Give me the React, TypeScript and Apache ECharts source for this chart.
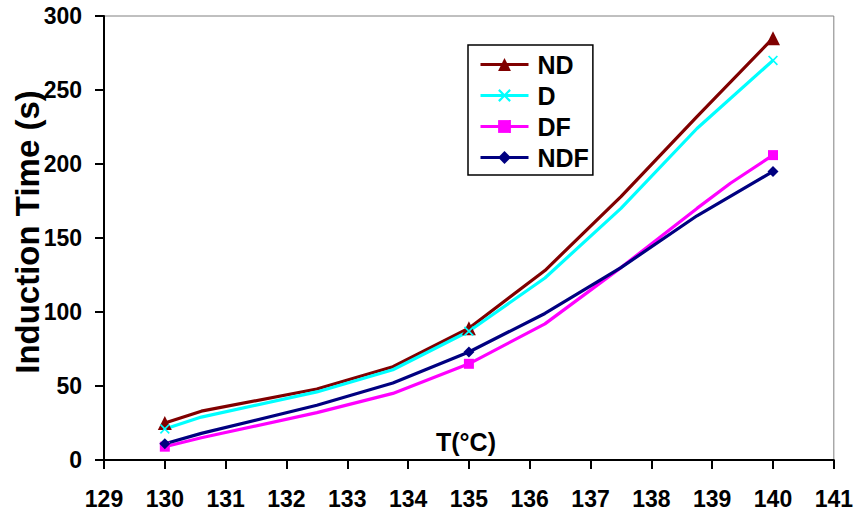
import React, { useEffect, useRef } from "react";
import * as echarts from "echarts";

const seriesNames = ["ND", "D", "DF", "NDF"];
const measuredT = [130, 135, 140];

const ndT = [130, 130.6, 132.5, 133.75, 135, 136.25, 137.5, 138.75, 140];
const ndV = [25, 33, 48, 63, 89, 128, 178, 232, 285];
const dT = [130, 130.6, 132.5, 133.75, 135, 136.25, 137.5, 138.75, 140];
const dV = [21, 29, 46, 61, 87, 123, 170, 224, 270];
const dfT = [130, 130.6, 132.5, 133.75, 135, 136.25, 137.5, 138.75, 139.3, 140];
const dfV = [9, 15, 32, 45, 65, 92, 130, 170, 187, 206];
const ndfT = [130, 130.6, 132.5, 133.75, 135, 136.25, 137.5, 138.75, 140];
const ndfV = [11, 18, 37, 52, 73, 99, 130, 165, 195];

const xMin = 129;
const xMax = 141;
const yMin = 0;
const yMax = 300;

const FONT = "'Liberation Sans', Arial, sans-serif";
const CROSS =
  "path://M0,1.2L1.2,0L5,3.8L8.8,0L10,1.2L6.2,5L10,8.8L8.8,10L5,6.2L1.2,10L0,8.8L3.8,5Z";

function buildData(ts: number[], vs: number[]) {
  return ts.map((t, i) =>
    measuredT.includes(t)
      ? { value: [t, vs[i]] }
      : { value: [t, vs[i]], symbol: "none" }
  );
}

export default function App() {
  const ref = useRef<HTMLDivElement>(null);
  useEffect(() => {
    if (!ref.current) return;
    const chart = echarts.init(ref.current, undefined, { renderer: "svg" });
    const lineCommon = {
      type: "line",
      smooth: false,
      showAllSymbol: true,
      emphasis: { disabled: true },
    };
    chart.setOption({
      animation: false,
      backgroundColor: "#fff",
      grid: {
        left: 104,
        right: 19,
        top: 16,
        bottom: 57,
        show: true,
        borderColor: "#808080",
        borderWidth: 1,
        backgroundColor: "transparent",
      },
      legend: {
        orient: "vertical",
        left: 468,
        top: 45,
        padding: [7, 4, 5, 11],
        itemGap: 6,
        itemWidth: 48,
        itemHeight: 16,
        borderColor: "#000",
        borderWidth: 1.5,
        backgroundColor: "#fff",
        borderRadius: 0,
        data: seriesNames,
        lineStyle: { width: 3 },
        textStyle: {
          fontFamily: FONT,
          fontSize: 25,
          fontWeight: "bold",
          color: "#000",
          padding: [0, 0, 0, 4],
        },
      },
      xAxis: {
        type: "value",
        min: xMin,
        max: xMax,
        interval: 1,
        axisLine: { show: true, lineStyle: { color: "#000", width: 2 } },
        axisTick: { show: true, length: 9, lineStyle: { color: "#000", width: 2 } },
        splitLine: { show: false },
        axisLabel: {
          fontFamily: FONT,
          fontSize: 23,
          fontWeight: "bold",
          color: "#000",
          margin: 27,
        },
      },
      yAxis: {
        type: "value",
        min: yMin,
        max: yMax,
        interval: 50,
        axisLine: { show: true, lineStyle: { color: "#000", width: 2 } },
        axisTick: { show: true, length: 9, lineStyle: { color: "#000", width: 2 } },
        splitLine: { show: false },
        axisLabel: {
          fontFamily: FONT,
          fontSize: 23,
          fontWeight: "bold",
          color: "#000",
          margin: 22,
        },
      },
      graphic: [
        {
          type: "text",
          x: 27,
          y: 232,
          rotation: Math.PI / 2,
          style: {
            text: "Induction Time (s)",
            fontFamily: FONT,
            fontSize: 33,
            fontWeight: "bold",
            fill: "#000",
            align: "center",
            verticalAlign: "middle",
          },
        },
        {
          type: "text",
          x: 466,
          y: 442,
          style: {
            text: "T(°C)",
            fontFamily: FONT,
            fontSize: 25,
            fontWeight: "bold",
            fill: "#000",
            align: "center",
            verticalAlign: "middle",
          },
        },
      ],
      series: [
        {
          ...lineCommon,
          name: "ND",
          symbol: "triangle",
          symbolSize: 14,
          color: "#800000",
          itemStyle: { color: "#800000" },
          lineStyle: { width: 3.2, color: "#800000" },
          data: buildData(ndT, ndV),
        },
        {
          ...lineCommon,
          name: "D",
          symbol: CROSS,
          symbolSize: 10,
          color: "#00FFFF",
          itemStyle: { color: "#00FFFF" },
          lineStyle: { width: 3.2, color: "#00FFFF" },
          data: buildData(dT, dV),
        },
        {
          ...lineCommon,
          name: "DF",
          symbol: "rect",
          symbolSize: 10,
          color: "#FF00FF",
          itemStyle: { color: "#FF00FF" },
          lineStyle: { width: 3.2, color: "#FF00FF" },
          data: buildData(dfT, dfV),
        },
        {
          ...lineCommon,
          name: "NDF",
          symbol: "diamond",
          symbolSize: 11,
          color: "#000080",
          itemStyle: { color: "#000080" },
          lineStyle: { width: 3.2, color: "#000080" },
          data: buildData(ndfT, ndfV),
        },
      ],
    });
    return () => chart.dispose();
  }, []);
  return <div ref={ref} style={{ width: 856, height: 517, position: "absolute", left: 0, top: 0 }} />;
}
